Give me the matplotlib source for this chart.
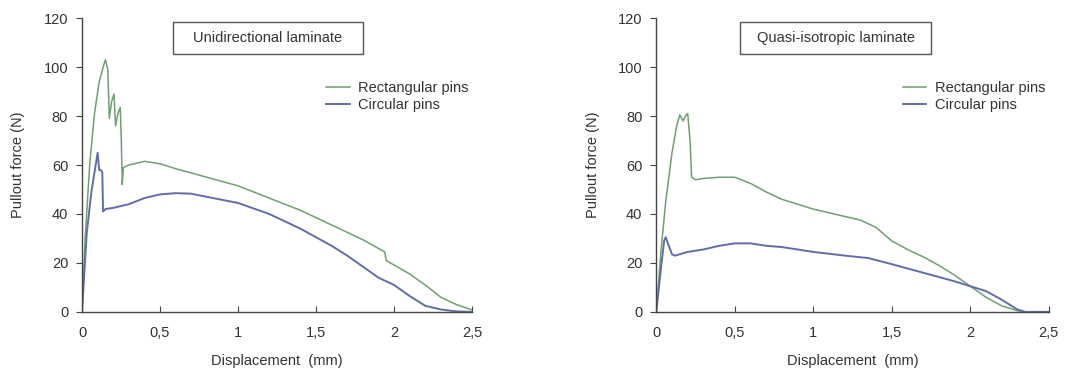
import matplotlib
matplotlib.use('Agg')
import matplotlib.pyplot as plt
from matplotlib.patches import Rectangle

plt.rcParams['font.family'] = ['Liberation Sans', 'DejaVu Sans']

GREEN = '#6f9f72'
BLUE = '#5f6ea8'
TXT = '#333333'

# Unidirectional laminate
uni_rect_x = [0, 0.02, 0.05, 0.08, 0.11, 0.14, 0.15, 0.165, 0.175, 0.19, 0.205, 0.215,
              0.23, 0.245, 0.252, 0.258, 0.265, 0.3, 0.4, 0.5, 0.6, 0.8, 1.0, 1.2, 1.4,
              1.6, 1.8, 1.94, 1.95, 2.1, 2.2, 2.3, 2.4, 2.5]
uni_rect_y = [0, 30, 61, 81, 94, 101, 103, 99, 79, 86, 89, 76, 81, 83.5, 70, 52, 59,
              60, 61.5, 60.5, 58.5, 55, 51.5, 46.5, 41.5, 35.5, 29.5, 24.5, 21, 15.5,
              11, 6, 3, 0.8]
uni_circ_x = [0, 0.03, 0.06, 0.09, 0.1, 0.11, 0.12, 0.13, 0.135, 0.15, 0.2, 0.3, 0.4,
              0.5, 0.6, 0.7, 0.8, 1.0, 1.2, 1.4, 1.6, 1.7, 1.8, 1.9, 2.0, 2.1, 2.2,
              2.3, 2.4, 2.5]
uni_circ_y = [0, 32, 49, 61, 65, 58, 58, 57, 41, 42, 42.5, 44, 46.5, 48, 48.5, 48.3,
              47, 44.5, 40, 34, 27, 23, 18.5, 14, 11, 6.5, 2.5, 1, 0.2, 0]

# Quasi-isotropic laminate
qi_rect_x = [0, 0.03, 0.06, 0.1, 0.13, 0.15, 0.17, 0.19, 0.2, 0.215, 0.225, 0.25,
             0.3, 0.4, 0.5, 0.6, 0.7, 0.8, 1.0, 1.2, 1.3, 1.4, 1.5, 1.6, 1.7, 1.8,
             1.9, 2.0, 2.1, 2.2, 2.3, 2.4, 2.5]
qi_rect_y = [0, 25, 45, 65, 76, 80.5, 78, 80.5, 81, 70, 55, 54, 54.5, 55, 55, 52.5,
             49, 46, 42, 39, 37.5, 34.5, 29, 25.5, 22.5, 19, 15, 10.5, 6, 2.5, 0.5,
             -0.3, 0]
qi_circ_x = [0, 0.03, 0.05, 0.06, 0.08, 0.1, 0.12, 0.2, 0.3, 0.4, 0.5, 0.6, 0.7,
             0.8, 1.0, 1.2, 1.35, 1.5, 1.7, 1.9, 2.0, 2.1, 2.2, 2.3, 2.35, 2.5]
qi_circ_y = [0, 18, 29, 30.5, 27, 23.5, 23, 24.5, 25.5, 27, 28, 28, 27, 26.5, 24.5,
             23, 22, 19.5, 16, 12.5, 10.5, 8.5, 5, 1, 0, 0]

x_ticks = [0, 0.5, 1, 1.5, 2, 2.5]
x_labels = ['0', '0,5', '1', '1,5', '2', '2,5']
y_ticks = [0, 20, 40, 60, 80, 100, 120]

panels = [
    ('Unidirectional laminate', uni_rect_x, uni_rect_y, uni_circ_x, uni_circ_y),
    ('Quasi-isotropic laminate', qi_rect_x, qi_rect_y, qi_circ_x, qi_circ_y),
]
axes_pos = [[0.0763, 0.157, 0.3628, 0.794], [0.6105, 0.157, 0.3651, 0.794]]
# title box (x0, x1) and legend anchor x, in axes fraction
box_x = [(0.233, 0.721), (0.214, 0.700)]
leg_x = [0.626, 0.628]

fig = plt.figure(figsize=(10.75, 3.7), dpi=100)
for pos, bx, lx, (title, rx, ry, cx, cy) in zip(axes_pos, box_x, leg_x, panels):
    ax = fig.add_axes(pos)
    ax.plot(rx, ry, color=GREEN, lw=1.1, label='Rectangular pins')
    ax.plot(cx, cy, color=BLUE, lw=1.4, label='Circular pins')
    ax.set_xlim(0, 2.5)
    ax.set_ylim(0, 120)
    ax.set_xticks(x_ticks)
    ax.set_xticklabels(x_labels)
    ax.set_yticks(y_ticks)
    for s in ['top', 'right']:
        ax.spines[s].set_visible(False)
    for s in ['left', 'bottom']:
        ax.spines[s].set_color('#444444')
        ax.spines[s].set_linewidth(1.0)
    ax.tick_params(axis='x', direction='in', length=4, color='#444444',
                   labelsize=10.5, labelcolor=TXT, pad=10)
    ax.tick_params(axis='y', direction='out', length=4, color='#444444',
                   labelsize=10.5, labelcolor=TXT, pad=6)
    ax.set_xlabel('Displacement  (mm)', fontsize=10.5, color=TXT, labelpad=10)
    ax.set_ylabel('Pullout force (N)', fontsize=10.5, color=TXT, labelpad=13)

    ax.add_patch(Rectangle((bx[0], 0.878), bx[1] - bx[0], 0.108,
                           transform=ax.transAxes, fc='white', ec='#555555',
                           lw=1.0, clip_on=False))
    ax.text((bx[0] + bx[1]) / 2, 0.932, title, transform=ax.transAxes,
            ha='center', va='center', fontsize=10.5, color=TXT)

    leg = ax.legend(loc='upper left', bbox_to_anchor=(lx, 0.785), frameon=False,
                    fontsize=10.5, handlelength=1.6, handletextpad=0.6,
                    labelspacing=0.2, borderpad=0, borderaxespad=0)
    for t in leg.get_texts():
        t.set_color(TXT)

fig.savefig('out.png', dpi=100)
